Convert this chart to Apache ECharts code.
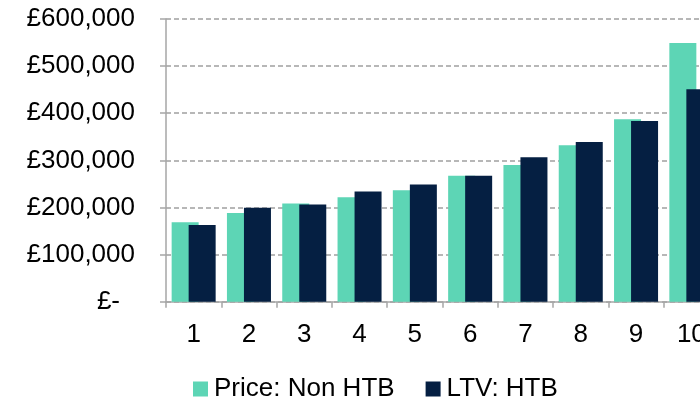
<!DOCTYPE html>
<html>
<head>
<meta charset="utf-8">
<script src="https://cdn.jsdelivr.net/npm/echarts@6/dist/echarts.min.js"></script>
<style>
  html, body { margin: 0; padding: 0; background: #ffffff; }
  #chart { width: 700px; height: 401px; }
</style>
</head>
<body>
<div id="chart"></div>
<script>
// Price bands 1-10: purchase price (non Help to Buy) vs loan-to-value (Help to Buy)
const categories = ['1', '2', '3', '4', '5', '6', '7', '8', '9', '10'];
const priceNonHtb = [168500, 188000, 208500, 221500, 236500, 267500, 290000, 332000, 387000, 549000];
const ltvHtb = [163000, 199500, 206500, 234000, 248500, 267500, 306500, 339000, 383500, 451000];
const seriesNames = ['Price: Non HTB', 'LTV: HTB'];
const yMin = 0, yMax = 600000, yStep = 100000;

const FONT = '"Liberation Sans", Arial, sans-serif';
const AXIS_GREY = '#a6a6a6';
const FS = 26;

function poundLabel(v) {
  if (v === 0) return '{z|£-}';
  return '£' + v.toLocaleString('en-GB');
}

const chart = echarts.init(document.getElementById('chart'), null, { renderer: 'canvas' });
chart.setOption({
  animation: false,
  backgroundColor: '#ffffff',
  textStyle: { fontFamily: FONT },
  // plot area runs past the right edge of the canvas
  grid: { left: 166, top: 19, width: 553, height: 282.7, outerBoundsMode: 'none', containLabel: false },
  legend: {
    left: 188,
    top: 371,
    itemWidth: 15,
    itemHeight: 15,
    itemGap: 31,
    icon: 'rect',
    textStyle: { fontFamily: FONT, fontSize: FS, color: '#000000', padding: [0, 0, 0, 1] },
    data: seriesNames
  },
  xAxis: {
    type: 'category',
    data: categories,
    axisLine: { show: true, lineStyle: { color: AXIS_GREY, width: 1.5 } },
    axisTick: { show: true, length: 6, lineStyle: { color: AXIS_GREY, width: 1.5 } },
    axisLabel: { color: '#000000', fontFamily: FONT, fontSize: FS, margin: 20 },
    splitLine: { show: false }
  },
  yAxis: {
    type: 'value',
    min: yMin,
    max: yMax,
    interval: yStep,
    axisLine: { show: true, lineStyle: { color: AXIS_GREY, width: 1.5 } },
    axisTick: { show: true, length: 6, lineStyle: { color: AXIS_GREY, width: 1.5 } },
    axisLabel: {
      color: '#000000',
      fontFamily: FONT,
      fontSize: FS,
      margin: 31,
      formatter: poundLabel,
      rich: { z: { fontFamily: FONT, fontSize: FS, color: '#000000', padding: [0, 15, 0, 0] } }
    },
    splitLine: { show: true, lineStyle: { color: '#a0a0a0', width: 1.5, type: [5, 3] } }
  },
  series: [
    {
      name: seriesNames[0],
      type: 'bar',
      data: priceNonHtb,
      barWidth: 27,
      barGap: '-37%',
      itemStyle: { color: '#5dd5b5' }
    },
    {
      name: seriesNames[1],
      type: 'bar',
      data: ltvHtb,
      barWidth: 27,
      barGap: '-37%',
      itemStyle: { color: '#051f42' }
    }
  ]
});
</script>
</body>
</html>
